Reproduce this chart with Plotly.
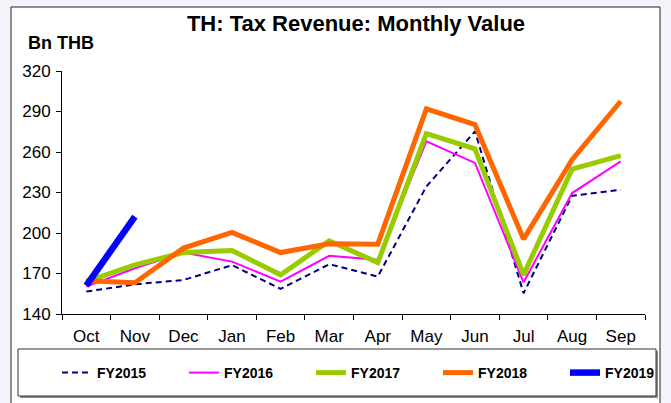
import plotly.graph_objects as go

months = ["Oct", "Nov", "Dec", "Jan", "Feb", "Mar", "Apr", "May", "Jun", "Jul", "Aug", "Sep"]
fy2015 = [156.6, 162.0, 165.2, 176.2, 158.6, 176.9, 167.7, 234.5, 275.3, 155.4, 227.6, 232.1]
fy2016 = [160.3, 173.9, 185.5, 178.8, 164.0, 183.1, 180.1, 267.9, 251.9, 163.5, 229.6, 253.1]
fy2017 = [164.0, 176.4, 185.5, 187.0, 169.0, 194.2, 178.1, 273.6, 262.3, 169.0, 247.4, 257.3]
fy2018 = [164.7, 163.2, 188.8, 200.4, 185.5, 192.0, 191.7, 292.0, 280.3, 195.5, 254.3, 297.6]
fy2019 = [161.0, 212.2]
y_ticks = [140, 170, 200, 230, 260, 290, 320]

W, H = 671, 403
L, R, T, B = 62, 26, 71, 89
pw, ph = W - L - R, H - T - B

def px(x):
    return (x - L) / pw

def py(y):
    return (H - B - y) / ph

fig = go.Figure()
fig.add_trace(go.Scatter(x=months, y=fy2015, name="FY2015", mode="lines",
                         line=dict(color="#000080", width=2, dash="6px,4px")))
fig.add_trace(go.Scatter(x=months, y=fy2016, name="FY2016", mode="lines",
                         line=dict(color="#ff00ff", width=2)))
fig.add_trace(go.Scatter(x=months, y=fy2017, name="FY2017", mode="lines",
                         line=dict(color="#99cc00", width=5)))
fig.add_trace(go.Scatter(x=months, y=fy2018, name="FY2018", mode="lines",
                         line=dict(color="#ff6600", width=5)))
fig.add_trace(go.Scatter(x=months[:len(fy2019)], y=fy2019, name="FY2019", mode="lines",
                         line=dict(color="#0000ff", width=6.5)))

shapes = [
    # outer white frame
    dict(type="rect", xref="paper", yref="paper", x0=px(11), x1=px(660), y0=py(420), y1=py(7),
         line=dict(color="#222222", width=1), fillcolor="white", layer="below"),
    # legend box shadow
    dict(type="rect", xref="paper", yref="paper", x0=px(20), x1=px(658), y0=py(398), y1=py(351),
         line=dict(width=0), fillcolor="#8a8a8a", layer="below"),
    # legend box
    dict(type="rect", xref="paper", yref="paper", x0=px(18), x1=px(656), y0=py(396), y1=py(349),
         line=dict(color="#333333", width=1), fillcolor="white", layer="below"),
]

fig.update_layout(
    width=W, height=H,
    margin=dict(l=L, r=R, t=T, b=B, autoexpand=False),
    paper_bgcolor="#f3f4fb",
    plot_bgcolor="white",
    font=dict(family="Arial, Liberation Sans, sans-serif", color="black"),
    title=dict(text="<b>TH: Tax Revenue: Monthly Value</b>", x=px(356), xanchor="center",
               xref="paper", y=1 - 23 / H, yanchor="middle", yref="container",
               font=dict(size=22, color="black")),
    annotations=[dict(text="<b>Bn THB</b>", xref="paper", yref="paper", x=px(26), y=py(43),
                      xanchor="left", yanchor="middle", showarrow=False,
                      font=dict(size=18, color="black"))],
    shapes=shapes,
    showlegend=True,
    legend=dict(orientation="h", x=px(57), xanchor="left", y=py(373), yanchor="middle",
                bgcolor="rgba(0,0,0,0)", borderwidth=0,
                font=dict(size=14, color="black", family="Arial, Liberation Sans, sans-serif"),
                entrywidth=82, entrywidthmode="pixels", tracegroupgap=0),
    xaxis=dict(type="category", showline=True, linecolor="black", linewidth=1,
               ticks="outside", ticklen=5, tickcolor="black", tickson="boundaries",
               showgrid=False, zeroline=False, tickfont=dict(size=17),
               range=[-0.5, 11.5], ticklabelstandoff=7),
    yaxis=dict(range=[140, 320], tickvals=y_ticks, showline=True, linecolor="black",
               linewidth=1, ticks="outside", ticklen=5, tickcolor="black",
               showgrid=False, zeroline=False, tickfont=dict(size=17),
               ticklabelstandoff=2),
)

for tr in fig.data:
    tr.update(name="<b>" + tr.name + "</b>")

fig.write_html("out.html", config={"displayModeBar": False},
               post_script="document.body.style.margin='0';document.body.style.overflow='hidden';")
